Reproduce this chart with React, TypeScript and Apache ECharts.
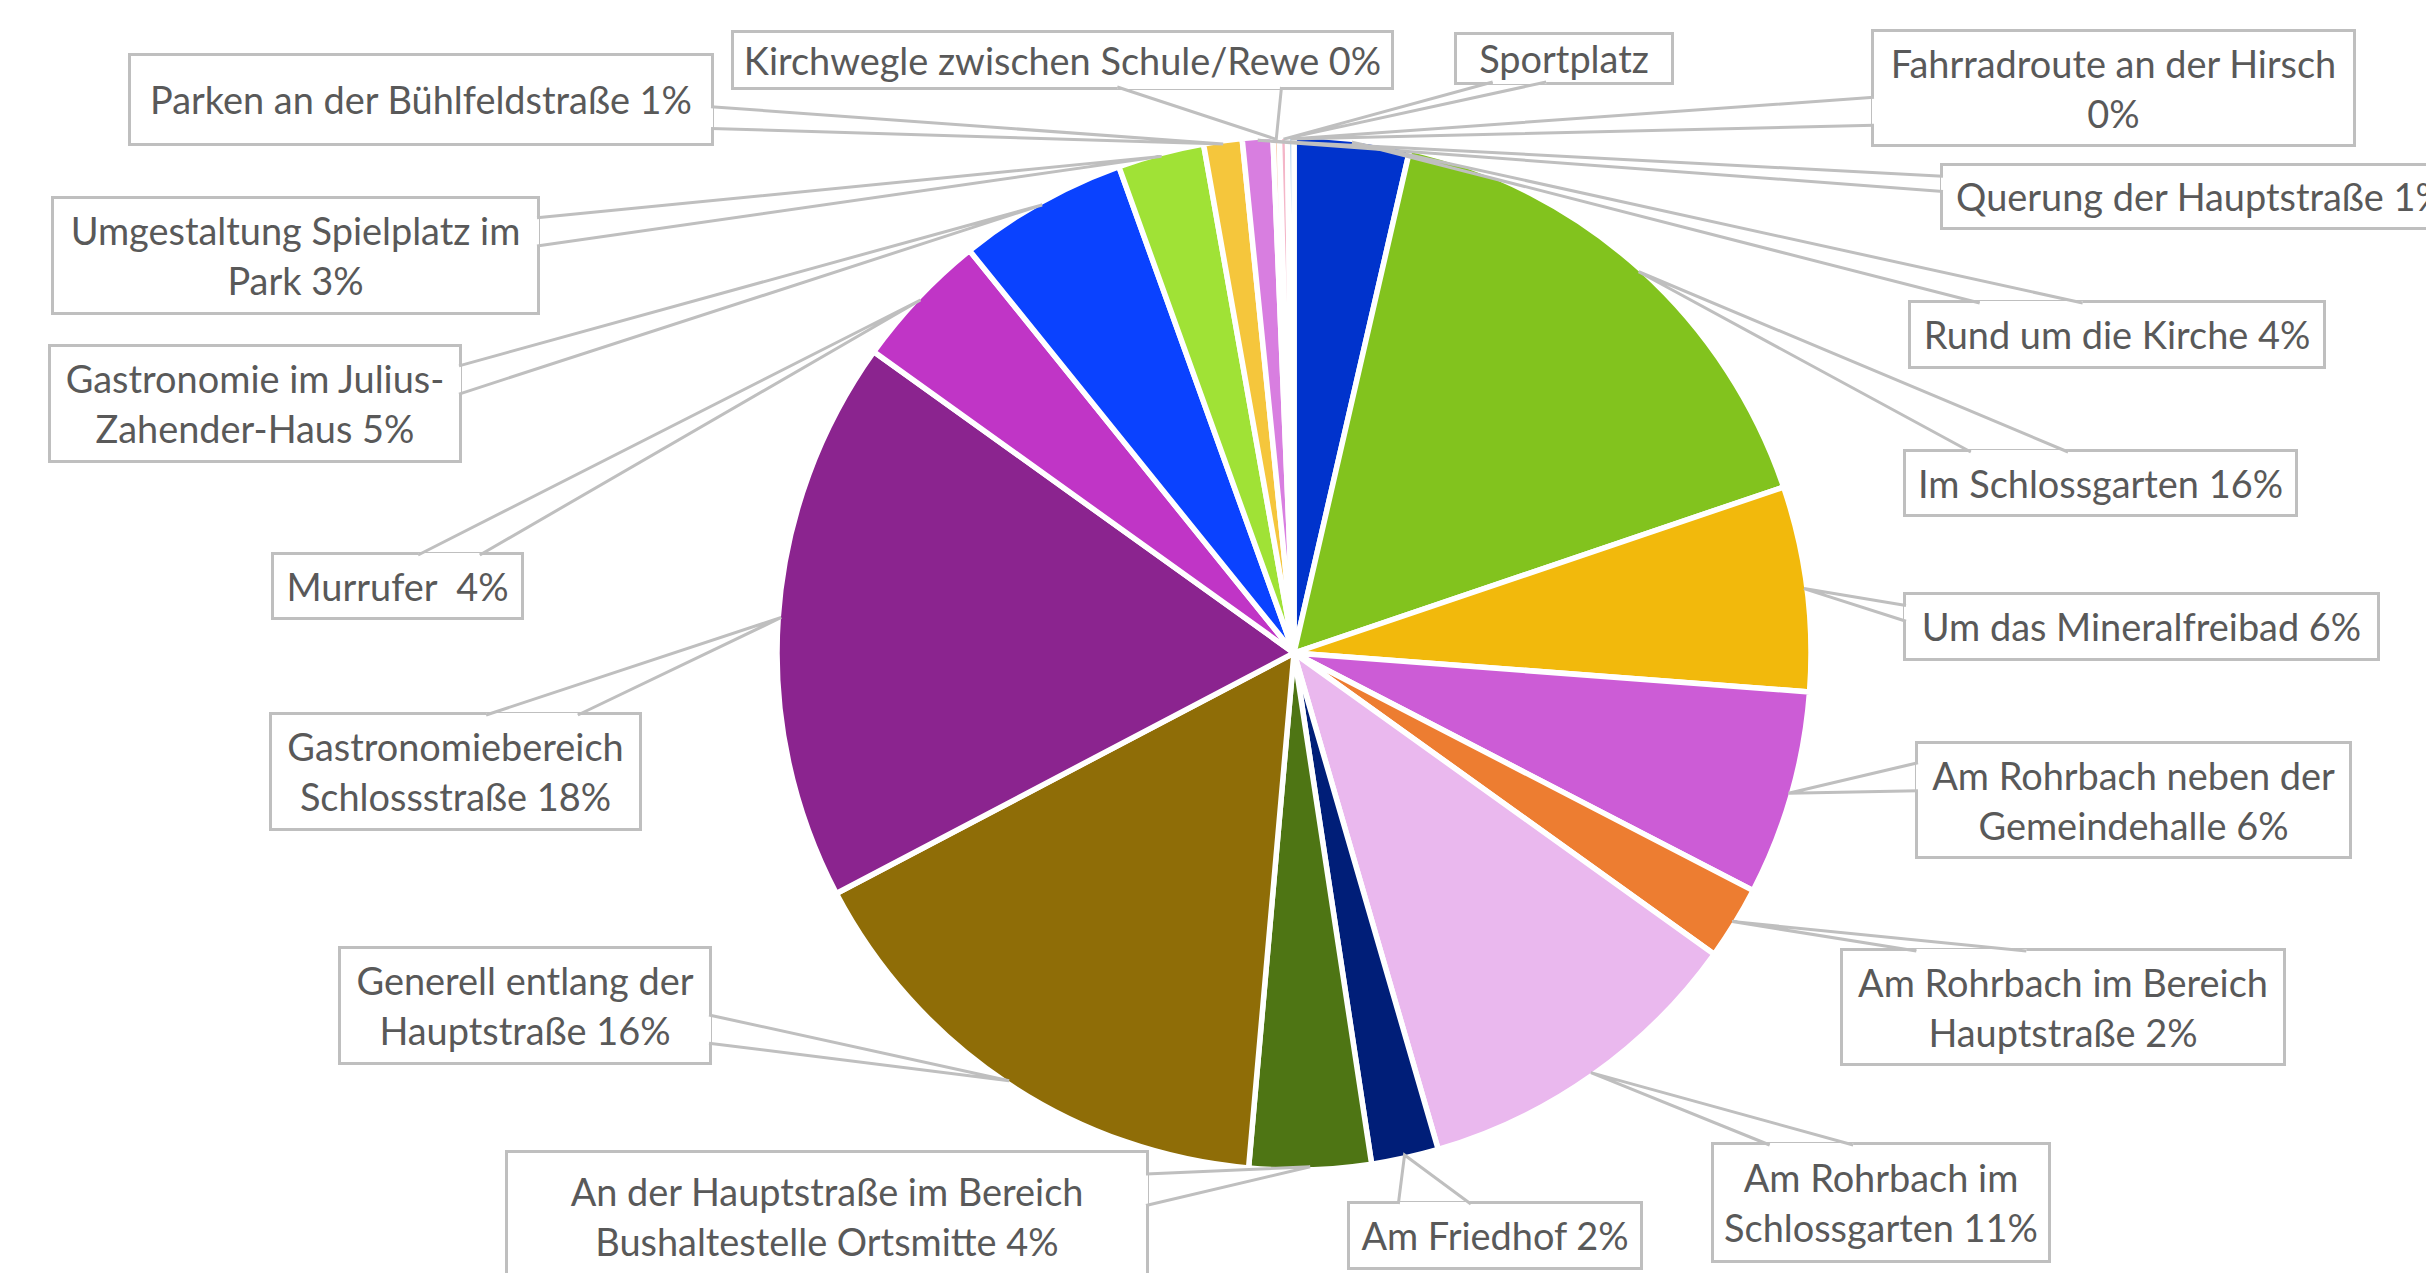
import React, { useEffect, useRef } from 'react';
import * as echarts from 'echarts';

// ---- data (clockwise from 12 o'clock) ----
const names: string[] = [
  'Rund um die Kirche',
  'Im Schlossgarten',
  'Um das Mineralfreibad',
  'Am Rohrbach neben der\nGemeindehalle',
  'Am Rohrbach im Bereich\nHauptstraße',
  'Am Rohrbach im\nSchlossgarten',
  'Am Friedhof',
  'An der Hauptstraße im Bereich\nBushaltestelle Ortsmitte',
  'Generell entlang der\nHauptstraße',
  'Gastronomiebereich\nSchlossstraße',
  'Murrufer ',
  'Gastronomie im Julius-\nZahender-Haus',
  'Umgestaltung Spielplatz im\nPark',
  'Parken an der Bühlfeldstraße',
  'Querung der Hauptstraße',
  'Kirchwegle zwischen Schule/Rewe',
  'Sportplatz',
  'Fahrradroute an der Hirsch',
];

const values: number[] = [
  3.6, 16.2, 6.4, 6.4, 2.3, 10.6, 2.1, 3.8, 15.9, 17.6, 4.3, 5.3, 2.7, 1.2, 0.95, 0.2, 0.25, 0.2,
];

// separator between name and percentage (null: percentage not shown)
const percentSeparator: (string | null)[] = [
  ' ', ' ', ' ', ' ', ' ', ' ', ' ', ' ', ' ', ' ', ' ', ' ', ' ', ' ', ' ', ' ', null, '\n',
];

const colors: string[] = [
  '#0033CC', '#82C31E', '#F2B90C', '#CC5CD6', '#ED7D31', '#EAB8EE', '#001E78', '#4E7514',
  '#8F6D07', '#8B248F', '#C035C6', '#0A42FF', '#A0E236', '#F5C63C', '#D87EE0',
  '#F8CBAD', '#F4B6C8', '#9DC3E6',
];

// ---- layout of the callout boxes: [left, top, width, height] (px) ----
const labelBoxes: number[][] = [
  [1911, 303, 412, 63],
  [1906, 452, 389, 62],
  [1906, 595, 471, 63],
  [1918, 744, 431, 112],
  [1843, 951, 440, 112],
  [1714, 1145, 334, 115],
  [1350, 1204, 290, 63],
  [508, 1153, 638, 126],
  [341, 949, 368, 113],
  [272, 715, 367, 113],
  [274, 555, 247, 62],
  [51, 347, 408, 113],
  [54, 199, 483, 113],
  [131, 56, 580, 87],
  [1943, 166, 516, 61],
  [734, 33, 657, 54],
  [1457, 35, 214, 47],
  [1874, 32, 479, 112],
];

const CX = 1294;
const CY = 653;
const R = 517;
const LINE_H = 50;
const FONT = 'Lato';
const FONT_SIZE = 37.9;
const TEXT_COLOR = '#595959';
const BOX_BORDER = '#BFBFBF';

function pctText(i: number, percent: number): string {
  const sep = percentSeparator[i];
  if (sep === null) return names[i];
  return names[i] + sep + Math.round(percent) + '%';
}

function wedge(box: number[], tip: number[]) {
  const [l, t, w, h] = box;
  const cx = l + w / 2;
  const cy = t + h / 2;
  const dx = tip[0] - cx;
  const dy = tip[1] - cy;
  const dq = Math.abs((dx * h) / w) - Math.abs(dy);
  if (dq > 0) {
    const x = dx > 0 ? l + w : l;
    const y1 = t + (h * (dy > 0 ? 7 : 2)) / 12;
    const y2 = t + (h * (dy > 0 ? 10 : 5)) / 12;
    return [[x, y1], tip, [x, y2]];
  }
  const y = dy > 0 ? t + h : t;
  const x1 = l + (w * (dx > 0 ? 7 : 2)) / 12;
  const x2 = l + (w * (dx > 0 ? 10 : 5)) / 12;
  return [[x1, y], tip, [x2, y]];
}

export default function App() {
  const ref = useRef<HTMLDivElement>(null);

  useEffect(() => {
    if (!ref.current) return;
    const chart = echarts.init(ref.current, null, { renderer: 'svg' });
    const total = values.reduce((a, b) => a + b, 0);

    const data = values.map((v, i) => {
      const [, , w, h] = labelBoxes[i];
      const txt = pctText(i, (v / total) * 100);
      const n = txt.split('\n').length;
      const lh = Math.min(LINE_H, h / n);
      const pad = Math.max(0, (h - n * lh) / 2);
      return {
        value: v,
        name: names[i],
        itemStyle: { color: colors[i] },
        label: { width: w, lineHeight: lh, padding: [pad, 0, pad, 0] },
      };
    });

    chart.setOption({
      animation: false,
      backgroundColor: '#ffffff',
      series: [
        {
          type: 'pie',
          center: [CX, CY],
          radius: R,
          startAngle: 90,
          clockwise: true,
          avoidLabelOverlap: false,
          percentPrecision: 2,
          itemStyle: { borderColor: '#ffffff', borderWidth: 5.5 },
          label: {
            show: true,
            position: 'outside',
            formatter: (p: any) => pctText(p.dataIndex, p.percent),
            color: TEXT_COLOR,
            fontFamily: FONT,
            fontSize: FONT_SIZE,
            align: 'center',
            verticalAlign: 'middle',
            backgroundColor: '#ffffff',
            borderColor: BOX_BORDER,
            borderWidth: 3,
            overflow: 'none',
          },
          labelLine: { show: false },
          labelLayout: (p: any) => {
            const [l, t, w, h] = labelBoxes[p.dataIndex];
            return { x: l + w / 2, y: t + h / 2, align: 'center', verticalAlign: 'middle' };
          },
          emphasis: { disabled: true },
          data,
        },
      ],
    });

    // tips of the callouts: outer edge of each slice at its middle angle
    let tips: number[][] = [];
    try {
      const sd = (chart as any).getModel().getSeriesByIndex(0).getData();
      tips = values.map((_, i) => {
        const lay = sd.getItemLayout(i);
        const mid = (lay.startAngle + lay.endAngle) / 2;
        const r = lay.r - 3;
        return [lay.cx + r * Math.cos(mid), lay.cy + r * Math.sin(mid)];
      });
    } catch (e) {
      let cum = 0;
      tips = values.map((v) => {
        const mid = ((cum + v / 2) / total) * Math.PI * 2;
        cum += v;
        return [CX + (R - 3) * Math.sin(mid), CY - (R - 3) * Math.cos(mid)];
      });
    }

    const elements: any[] = [];
    values.forEach((_, i) => {
      const pts = wedge(labelBoxes[i], tips[i]);
      elements.push({
        type: 'line',
        z: 100,
        silent: true,
        shape: { x1: pts[0][0], y1: pts[0][1], x2: pts[2][0], y2: pts[2][1] },
        style: { stroke: '#ffffff', lineWidth: 4 },
      });
      elements.push({
        type: 'polyline',
        z: 101,
        silent: true,
        shape: { points: pts },
        style: { stroke: BOX_BORDER, lineWidth: 3, fill: null, lineJoin: 'miter' },
      });
    });
    chart.setOption({ graphic: { elements } });

    return () => chart.dispose();
  }, []);

  return (
    <div
      ref={ref}
      style={{ position: 'fixed', left: 0, top: 0, width: 2426, height: 1273, background: '#fff' }}
    />
  );
}
